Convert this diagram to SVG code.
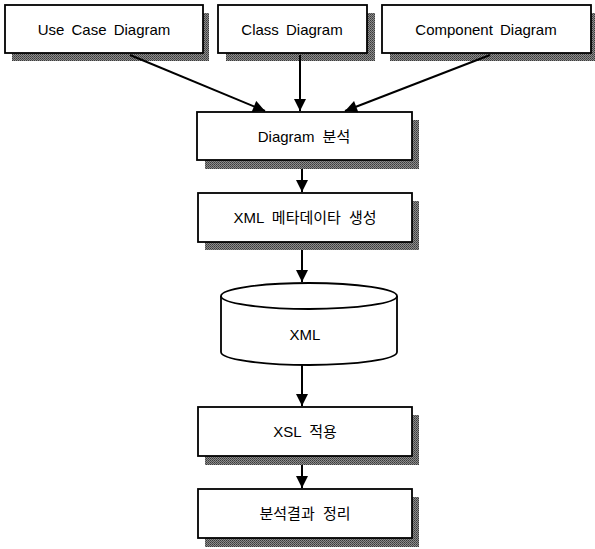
<svg xmlns="http://www.w3.org/2000/svg" width="595" height="549" viewBox="0 0 595 549">
<style>
.box{fill:#fff;stroke:#000;stroke-width:1.8}
.sh{fill:url(#dots)}
.t{font-family:"Liberation Sans","Noto Sans CJK KR",Arial,sans-serif;font-size:15px;fill:#000;text-anchor:middle;word-spacing:3px}
.k{font-family:"Liberation Sans","Noto Sans CJK KR",sans-serif;font-size:15px;fill:#000;text-anchor:middle;word-spacing:4px}
.c{stroke:#000;stroke-width:2;fill:none;marker-end:url(#ah)}
</style>
<defs>
<pattern id="dots" width="2" height="2" patternUnits="userSpaceOnUse">
<rect width="2" height="2" fill="#8c8c8c"/>
<rect width="1" height="1" fill="#3a3a3a"/>
<rect x="1" y="1" width="1" height="1" fill="#505050"/>
</pattern>
<marker id="ah" viewBox="0 0 10 10" refX="10" refY="5" markerWidth="7" markerHeight="6" orient="auto" markerUnits="strokeWidth">
<path d="M0,0 L10,5 L0,10 z" fill="#000"/>
</marker>
</defs>
<g id="usecase">
<rect class="sh" x="12" y="13" width="197" height="48"/>
<rect class="box" x="5" y="5" width="198" height="48"/>
<text class="t" x="104" y="35">Use Case Diagram</text>
</g>
<g id="class">
<rect class="sh" x="226" y="13" width="149" height="48"/>
<rect class="box" x="218" y="5" width="149" height="48"/>
<text class="t" x="292" y="35">Class Diagram</text>
</g>
<g id="component">
<rect class="sh" x="390" y="13" width="205" height="48"/>
<rect class="box" x="382" y="5" width="209" height="48"/>
<text class="t" x="486" y="35">Component Diagram</text>
</g>
<g id="analysis">
<rect class="sh" x="205" y="120" width="214" height="49"/>
<rect class="box" x="197" y="112" width="215" height="48"/>
<text class="k" x="304" y="142">Diagram 분석</text>
</g>
<g id="metadata">
<rect class="sh" x="205" y="201" width="214" height="49"/>
<rect class="box" x="198" y="193" width="214" height="49"/>
<text class="k" x="305" y="223">XML 메타데이타  생성</text>
</g>
<g id="xml">
<path class="box" d="M221,296 L221,352 A88,13 0 0 0 397,352 L397,296"/>
<ellipse class="box" cx="309" cy="296" rx="88" ry="13"/>
<text class="t" x="305" y="340">XML</text>
</g>
<g id="xsl">
<rect class="sh" x="205" y="415" width="214" height="50"/>
<rect class="box" x="198" y="407" width="214" height="49"/>
<text class="k" x="305" y="437">XSL 적용</text>
</g>
<g id="result">
<rect class="sh" x="205" y="497" width="214" height="50"/>
<rect class="box" x="198" y="489" width="214" height="49"/>
<text class="k" x="305" y="519">분석결과 정리</text>
</g>
<g id="connectors">
<line class="c" x1="130" y1="55" x2="265" y2="111"/>
<line class="c" x1="300" y1="55" x2="300" y2="111"/>
<line class="c" x1="490" y1="55" x2="345" y2="111"/>
<line class="c" x1="302" y1="169" x2="302" y2="192"/>
<line class="c" x1="302" y1="250" x2="302" y2="282"/>
<line class="c" x1="302" y1="365" x2="302" y2="406"/>
<line class="c" x1="302" y1="465" x2="302" y2="488"/>
</g>
</svg>
